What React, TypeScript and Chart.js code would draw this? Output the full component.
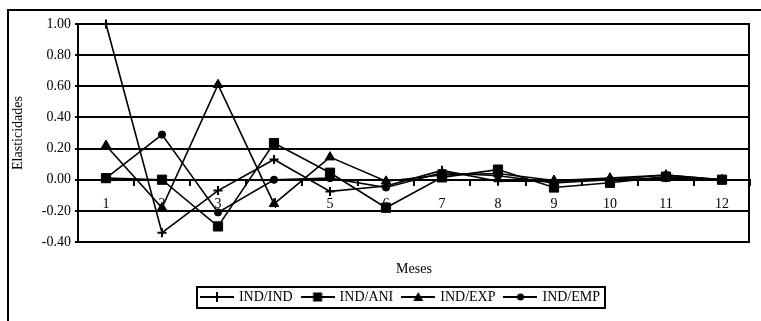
import React, { useEffect, useRef } from 'react';
import { Chart, registerables } from 'chart.js';

Chart.register(...registerables);

// ---- data ----
const months = ['1', '2', '3', '4', '5', '6', '7', '8', '9', '10', '11', '12'];
const seriesNames = ['IND/IND', 'IND/ANI', 'IND/EXP', 'IND/EMP'];
const indInd = [1.0, -0.34, -0.07, 0.13, -0.075, -0.04, 0.06, -0.01, -0.01, 0.0, 0.03, 0.0];
const indAni = [0.01, 0.0, -0.3, 0.235, 0.045, -0.18, 0.015, 0.065, -0.05, -0.02, 0.02, 0.0];
const indExp = [0.22, -0.18, 0.61, -0.155, 0.145, -0.01, 0.03, 0.04, -0.005, 0.01, 0.03, 0.0];
const indEmp = [0.01, 0.29, -0.21, 0.0, 0.01, -0.05, 0.045, 0.025, -0.02, 0.0, 0.01, 0.0];
const yMin = -0.4;
const yMax = 1.0;
const yStep = 0.2;
const yTitle = 'Elasticidades';
const xTitle = 'Meses';

const FONT = "'Times New Roman', 'Liberation Serif', serif";

function makeLegendIcon(style: string): HTMLCanvasElement {
  const c = document.createElement('canvas');
  c.width = 34;
  c.height = 14;
  const g = c.getContext('2d') as CanvasRenderingContext2D;
  g.strokeStyle = '#000';
  g.fillStyle = '#000';
  g.lineWidth = 2;
  g.beginPath();
  g.moveTo(0, 7);
  g.lineTo(34, 7);
  g.stroke();
  const cx = 17;
  const cy = 7;
  g.beginPath();
  if (style === 'cross') {
    g.moveTo(cx, cy - 5);
    g.lineTo(cx, cy + 5);
    g.stroke();
  } else if (style === 'rect') {
    g.fillRect(cx - 4.5, cy - 4.5, 9, 9);
  } else if (style === 'triangle') {
    g.moveTo(cx, cy - 5);
    g.lineTo(cx + 5, cy + 4);
    g.lineTo(cx - 5, cy + 4);
    g.closePath();
    g.fill();
  } else {
    g.arc(cx, cy, 3.5, 0, Math.PI * 2);
    g.fill();
  }
  return c;
}

const LEGEND_SHIFT = 26;

const framePlugin = {
  id: 'framePlugin',
  afterUpdate(chart: any) {
    const lg = chart.legend;
    if (!lg) return;
    lg.left += LEGEND_SHIFT;
    lg.right += LEGEND_SHIFT;
  },
  beforeDraw(chart: any) {
    const ctx = chart.ctx;
    ctx.save();
    ctx.strokeStyle = '#000';
    ctx.lineWidth = 2;
    ctx.beginPath();
    ctx.moveTo(8, chart.height + 2);
    ctx.lineTo(8, 10);
    ctx.lineTo(chart.width + 2, 10);
    ctx.stroke();
    ctx.restore();
  },
  beforeDatasetsDraw(chart: any) {
    const { ctx, chartArea } = chart;
    ctx.save();
    ctx.strokeStyle = '#000';
    ctx.lineWidth = 2;
    ctx.beginPath();
    ctx.moveTo(chartArea.right - 1, chartArea.top - 1);
    ctx.lineTo(chartArea.right - 1, chartArea.bottom + 1);
    ctx.stroke();
    ctx.restore();
  },
  afterDraw(chart: any) {
    const lg = chart.legend;
    if (!lg || !lg.legendHitBoxes || !lg.legendHitBoxes.length) return;
    const hb = lg.legendHitBoxes;
    const pad = lg.options.labels.padding;
    let total = 0;
    let h = 0;
    for (const b of hb) {
      total += b.width;
      h = Math.max(h, b.height);
    }
    total += pad * (hb.length - 1);
    const cx = (lg.left + lg.right) / 2;
    const l = cx - total / 2;
    const titleH = typeof lg._computeTitleHeight === 'function' ? lg._computeTitleHeight() : 0;
    const t = lg.top + titleH + pad;
    const ctx = chart.ctx;
    ctx.save();
    ctx.strokeStyle = '#000';
    ctx.lineWidth = 2;
    ctx.strokeRect(Math.round(l - 5), Math.round(t - 3), Math.round(total + 10), Math.round(h + 7));
    ctx.restore();
  },
};

export default function App() {
  const ref = useRef<HTMLCanvasElement | null>(null);

  useEffect(() => {
    if (!ref.current) return;
    const styles = ['cross', 'rect', 'triangle', 'circle'];
    const radii = [4.5, 6.5, 5.5, 3.6];
    const values = [indInd, indAni, indExp, indEmp];
    const icons = styles.map(makeLegendIcon);

    const chart = new Chart(ref.current, {
      type: 'line',
      data: {
        labels: months,
        datasets: seriesNames.map((name, i) => ({
          label: name,
          data: values[i],
          borderColor: '#000',
          backgroundColor: '#000',
          borderWidth: 1.6,
          pointStyle: styles[i] as any,
          pointRadius: radii[i],
          pointBorderWidth: i === 0 ? 2 : 1,
          pointBackgroundColor: '#000',
          pointBorderColor: '#000',
          tension: 0,
          fill: false,
          clip: false as any,
        })),
      },
      options: {
        animation: false,
        responsive: true,
        maintainAspectRatio: false,
        events: [],
        layout: { padding: { left: 0, right: 11, top: 24, bottom: 7 } },
        scales: {
          x: {
            type: 'category',
            position: { y: 0 } as any,
            offset: true,
            grid: {
              offset: true,
              drawOnChartArea: false,
              drawTicks: true,
              tickLength: 5,
              color: '#000',
              lineWidth: 2,
            },
            border: { display: true, color: '#000', width: 2 },
            ticks: {
              padding: 11,
              maxRotation: 0,
              autoSkip: false,
              color: '#000',
              font: { family: FONT, size: 14 },
            },
            title: {
              display: true,
              text: xTitle,
              color: '#000',
              font: { family: FONT, size: 14 },
              padding: { top: 37, bottom: 0 },
            },
          },
          y: {
            type: 'linear',
            position: 'left',
            min: yMin,
            max: yMax,
            afterFit: (s: any) => {
              s.width = 78;
            },
            ticks: {
              stepSize: yStep,
              padding: 4,
              color: '#000',
              font: { family: FONT, size: 14 },
              callback: (v: any) => {
                const n = Number(v);
                return (Math.abs(n) < 1e-9 ? 0 : n).toFixed(2);
              },
            },
            grid: { color: '#000', lineWidth: 2, tickLength: 3 },
            border: { color: '#000', width: 2 },
            title: {
              display: true,
              text: yTitle,
              color: '#000',
              font: { family: FONT, size: 14 },
              padding: { top: 10, bottom: 0 },
            },
          },
        },
        plugins: {
          tooltip: { enabled: false },
          legend: {
            display: true,
            position: 'bottom',
            title: {
              display: true,
              text: '',
              font: { size: 10, lineHeight: 1 },
              padding: { top: 28, bottom: 0 },
            },
            labels: {
              usePointStyle: true,
              pointStyleWidth: 30,
              padding: 10,
              color: '#000',
              font: { family: FONT, size: 14 },
              generateLabels: (c: any) =>
                c.data.datasets.map((ds: any, i: number) => ({
                  text: ds.label,
                  pointStyle: icons[i],
                  fillStyle: '#000',
                  strokeStyle: '#000',
                  fontColor: '#000',
                  lineWidth: 0,
                  hidden: false,
                  datasetIndex: i,
                })),
            },
          },
        },
      },
      plugins: [framePlugin],
    });
    return () => chart.destroy();
  }, []);

  return (
    <div style={{ position: 'absolute', left: 0, top: 0, width: 761, height: 321, background: '#fff' }}>
      <canvas ref={ref} />
    </div>
  );
}
